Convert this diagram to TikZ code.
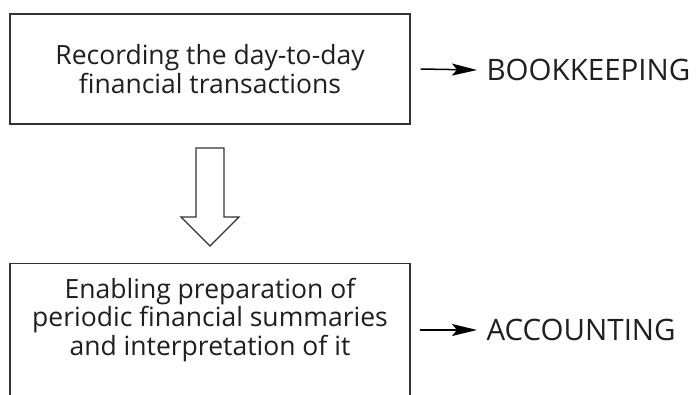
\documentclass[tikz,border=0pt]{standalone}
\usepackage{fontspec}
\setmainfont{Open Sans}
\usetikzlibrary{arrows.meta}

\begin{document}
\begin{tikzpicture}[x=1pt, y=-1pt, line width=1.2pt,
  every node/.style={text=black!88, font=\fontsize{26.5}{28.5}\selectfont},
  box/.style={draw=black!80, minimum width=400, minimum height=110, align=center},
  tag/.style={anchor=west, inner sep=0pt, font=\fontsize{29.5}{32}\selectfont}]
\useasboundingbox (0,0) rectangle (698,395);
\clip (0,0) rectangle (698,395);
\node[box] (rec) at (210,69) {Recording the day-to-day\\financial transactions};
\node[box, minimum height=150, anchor=north] (prep) at (210,263) {};
\node[align=center] (preptxt) at (210,320) {Enabling preparation of\\periodic financial summaries\\and interpretation of it};
\node[tag] (bk) at (486,70) {BOOKKEEPING};
\node[tag] (acc) at (486,330) {ACCOUNTING};
% block arrow between the two boxes
\draw[draw=black!80] (196,148) -- (224,148) -- (224,217) -- (239,217) -- (210,246)
  -- (181,217) -- (196,217) -- cycle;
\draw[line width=1.5pt, -{Stealth[length=25pt, width=12pt, inset=5pt]}] ([xshift=10]rec.east) -- ([xshift=-9]bk.west);
\draw[line width=1.5pt, -{Stealth[length=25pt, width=12pt, inset=5pt]}] (420,330) -- ([xshift=-9]acc.west);
\end{tikzpicture}
\end{document}
